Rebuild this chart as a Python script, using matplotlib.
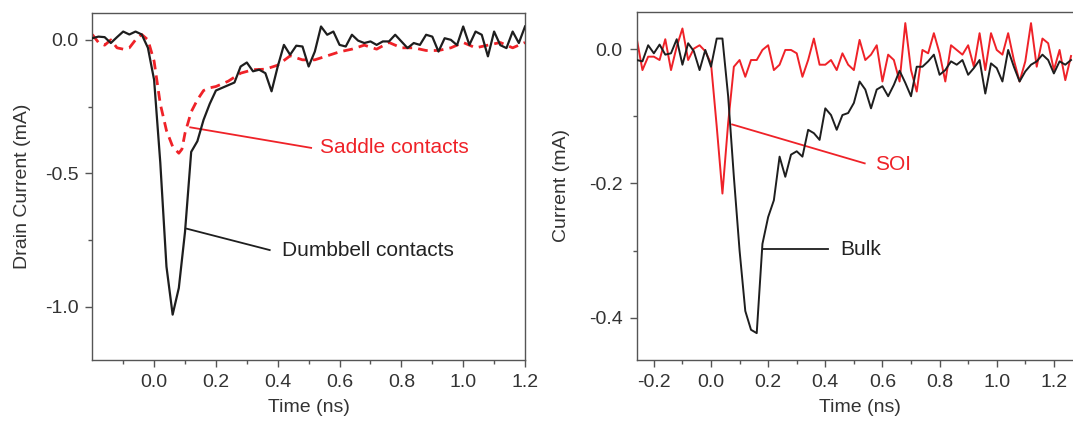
import numpy as np
import matplotlib.pyplot as plt

plt.rcParams['font.family'] = ['Liberation Sans', 'DejaVu Sans']
plt.rcParams['axes.unicode_minus'] = False

RED = '#ef2228'
DARK = '#1e1e1e'

# Left panel: drain current, sampled every 0.02 ns from -0.2 ns
t_left = np.round(np.arange(-0.2, 1.2001, 0.02), 3)
dumbbell = [0.006, 0.012, 0.010, -0.012, 0.010, 0.031, 0.020, 0.031, 0.020, -0.030,
            -0.150, -0.460, -0.850, -1.030, -0.930, -0.720, -0.420, -0.380, -0.300, -0.240,
            -0.190, -0.180, -0.170, -0.160, -0.100, -0.085, -0.118, -0.112, -0.125, -0.193,
            -0.100, -0.019, -0.056, -0.022, -0.025, -0.100, -0.044, 0.050, 0.019, 0.031,
            -0.019, -0.025, 0.019, -0.003, -0.012, -0.006, -0.019, -0.006, -0.006, 0.019,
            -0.006, -0.031, -0.012, -0.019, 0.019, 0.012, -0.044, 0.006, 0.000, -0.020,
            0.050, -0.019, 0.031, 0.019, -0.062, 0.031, -0.020, -0.031, 0.031, -0.012,
            0.050]

t_saddle = [-0.20, -0.18, -0.16, -0.14, -0.12, -0.10, -0.08, -0.06, -0.04, -0.02,
            0.00, 0.02, 0.04, 0.06, 0.08, 0.09, 0.10, 0.12, 0.14, 0.16,
            0.18, 0.20, 0.24, 0.28, 0.32, 0.36, 0.40, 0.44, 0.48, 0.52,
            0.56, 0.60, 0.64, 0.68, 0.72, 0.76, 0.80, 0.84, 0.88, 0.92,
            0.96, 1.00, 1.04, 1.08, 1.12, 1.16, 1.20]
saddle = [0.020, -0.010, -0.020, 0.000, -0.030, -0.035, -0.030, 0.000, 0.020, 0.000,
          -0.080, -0.240, -0.340, -0.400, -0.425, -0.410, -0.350, -0.270, -0.225, -0.190,
          -0.180, -0.175, -0.155, -0.125, -0.112, -0.110, -0.095, -0.060, -0.075, -0.075,
          -0.060, -0.045, -0.035, -0.020, -0.035, -0.010, -0.030, -0.030, -0.040, -0.040,
          -0.030, -0.010, -0.030, -0.020, -0.010, -0.030, -0.010]

# Right panel: current, sampled every 0.02 ns from -0.26 ns
t_right = np.round(np.arange(-0.26, 1.2601, 0.02), 3)
bulk = [-0.016, -0.018, 0.006, -0.006, 0.007, -0.008, -0.006, 0.015, -0.023, 0.009,
        -0.003, -0.031, -0.001, -0.026, 0.016, 0.016, -0.070, -0.190, -0.300, -0.390,
        -0.418, -0.423, -0.290, -0.250, -0.225, -0.160, -0.190, -0.157, -0.152, -0.160,
        -0.120, -0.125, -0.135, -0.088, -0.098, -0.120, -0.098, -0.095, -0.080, -0.048,
        -0.060, -0.088, -0.060, -0.055, -0.070, -0.053, -0.032, -0.050, -0.070, -0.026,
        -0.026, -0.018, -0.008, -0.038, -0.031, -0.018, -0.023, -0.016, -0.038, -0.028,
        -0.016, -0.066, -0.021, -0.028, -0.048, -0.001, -0.026, -0.048, -0.033, -0.023,
        -0.018, -0.008, -0.016, -0.036, -0.018, -0.023, -0.016]
soi = [0.016, -0.031, -0.011, -0.011, -0.016, 0.015, -0.031, 0.004, 0.031, -0.016,
       0.001, 0.006, -0.003, -0.021, -0.115, -0.215, -0.110, -0.026, -0.016, -0.041,
       -0.016, -0.016, -0.001, 0.006, -0.031, -0.023, -0.001, -0.001, -0.006, -0.041,
       -0.016, 0.016, -0.023, -0.023, -0.016, -0.031, -0.006, -0.023, -0.031, 0.014,
       -0.016, -0.008, 0.006, -0.048, -0.008, -0.016, -0.048, 0.039, -0.031, -0.063,
       -0.001, -0.006, 0.024, -0.006, -0.048, 0.006, -0.001, -0.008, 0.006, -0.026,
       0.024, -0.031, 0.024, -0.001, -0.008, 0.024, -0.016, -0.048, -0.018, 0.039,
       -0.026, 0.016, 0.009, -0.031, -0.001, -0.046, -0.010]


def style_axes(ax):
    for s in ax.spines.values():
        s.set_color('#555555')
        s.set_linewidth(1.0)
    ax.tick_params(which='both', direction='out', top=False, right=False,
                   colors='#555555', labelcolor='#333333', labelsize=14, pad=5)
    ax.tick_params(which='major', length=5, width=1)
    ax.tick_params(which='minor', length=3, width=1)


fig = plt.figure(figsize=(10.73, 4.24), dpi=100)

# left panel
ax1 = fig.add_axes([0.086, 0.151, 0.4033, 0.818])
ax1.plot(t_left, dumbbell, color=DARK, lw=1.6, zorder=3)
ax1.plot(t_saddle, saddle, color=RED, lw=2.0, ls=(0, (3.5, 2.2)), zorder=2)
ax1.plot([0.117, 0.508], [-0.328, -0.405], color=RED, lw=1.3)
ax1.text(0.536, -0.403, 'Saddle contacts', color=RED, fontsize=15, va='center')
ax1.plot([0.106, 0.374], [-0.708, -0.788], color=DARK, lw=1.3)
ax1.text(0.413, -0.79, 'Dumbbell contacts', color='#222222', fontsize=15, va='center')
ax1.set_xlim(-0.2, 1.2)
ax1.set_ylim(-1.2, 0.1)
ax1.set_xticks([0.0, 0.2, 0.4, 0.6, 0.8, 1.0, 1.2])
ax1.set_xticks([-0.1, 0.1, 0.3, 0.5, 0.7, 0.9, 1.1], minor=True)
ax1.set_yticks([-1.0, -0.5, 0.0])
ax1.set_yticks([-0.75, -0.25], minor=True)
ax1.set_yticklabels(['-1.0', '-0.5', '0.0'])
ax1.set_xlabel('Time (ns)', fontsize=14, color='#333333', labelpad=6)
ax1.set_ylabel('Drain Current (mA)', fontsize=14, color='#333333', labelpad=10)
style_axes(ax1)

# right panel (runs past the right edge of the figure)
ax2 = fig.add_axes([0.5934, 0.151, 0.4154, 0.8214])
ax2.plot(t_right, bulk, color=DARK, lw=1.4, zorder=3)
ax2.plot(t_right, soi, color=RED, lw=1.4, zorder=2)
ax2.plot([0.074, 0.538], [-0.112, -0.170], color=RED, lw=1.3)
ax2.text(0.573, -0.172, 'SOI', color=RED, fontsize=15, va='center')
ax2.plot([0.181, 0.41], [-0.298, -0.298], color=DARK, lw=1.3)
ax2.text(0.454, -0.298, 'Bulk', color='#222222', fontsize=15, va='center')
ax2.set_xlim(-0.26, 1.30)
ax2.set_ylim(-0.463, 0.056)
ax2.set_xticks([-0.2, 0.0, 0.2, 0.4, 0.6, 0.8, 1.0, 1.2])
ax2.set_xticks([-0.1, 0.1, 0.3, 0.5, 0.7, 0.9, 1.1], minor=True)
ax2.set_yticks([-0.4, -0.2, 0.0])
ax2.set_yticks([-0.3, -0.1], minor=True)
ax2.set_yticklabels(['-0.4', '-0.2', '0.0'])
ax2.set_xlabel('Time (ns)', fontsize=14, color='#333333', labelpad=6)
ax2.set_ylabel('Current (mA)', fontsize=14, color='#333333', labelpad=14)
style_axes(ax2)

fig.savefig('out.png', dpi=100)
